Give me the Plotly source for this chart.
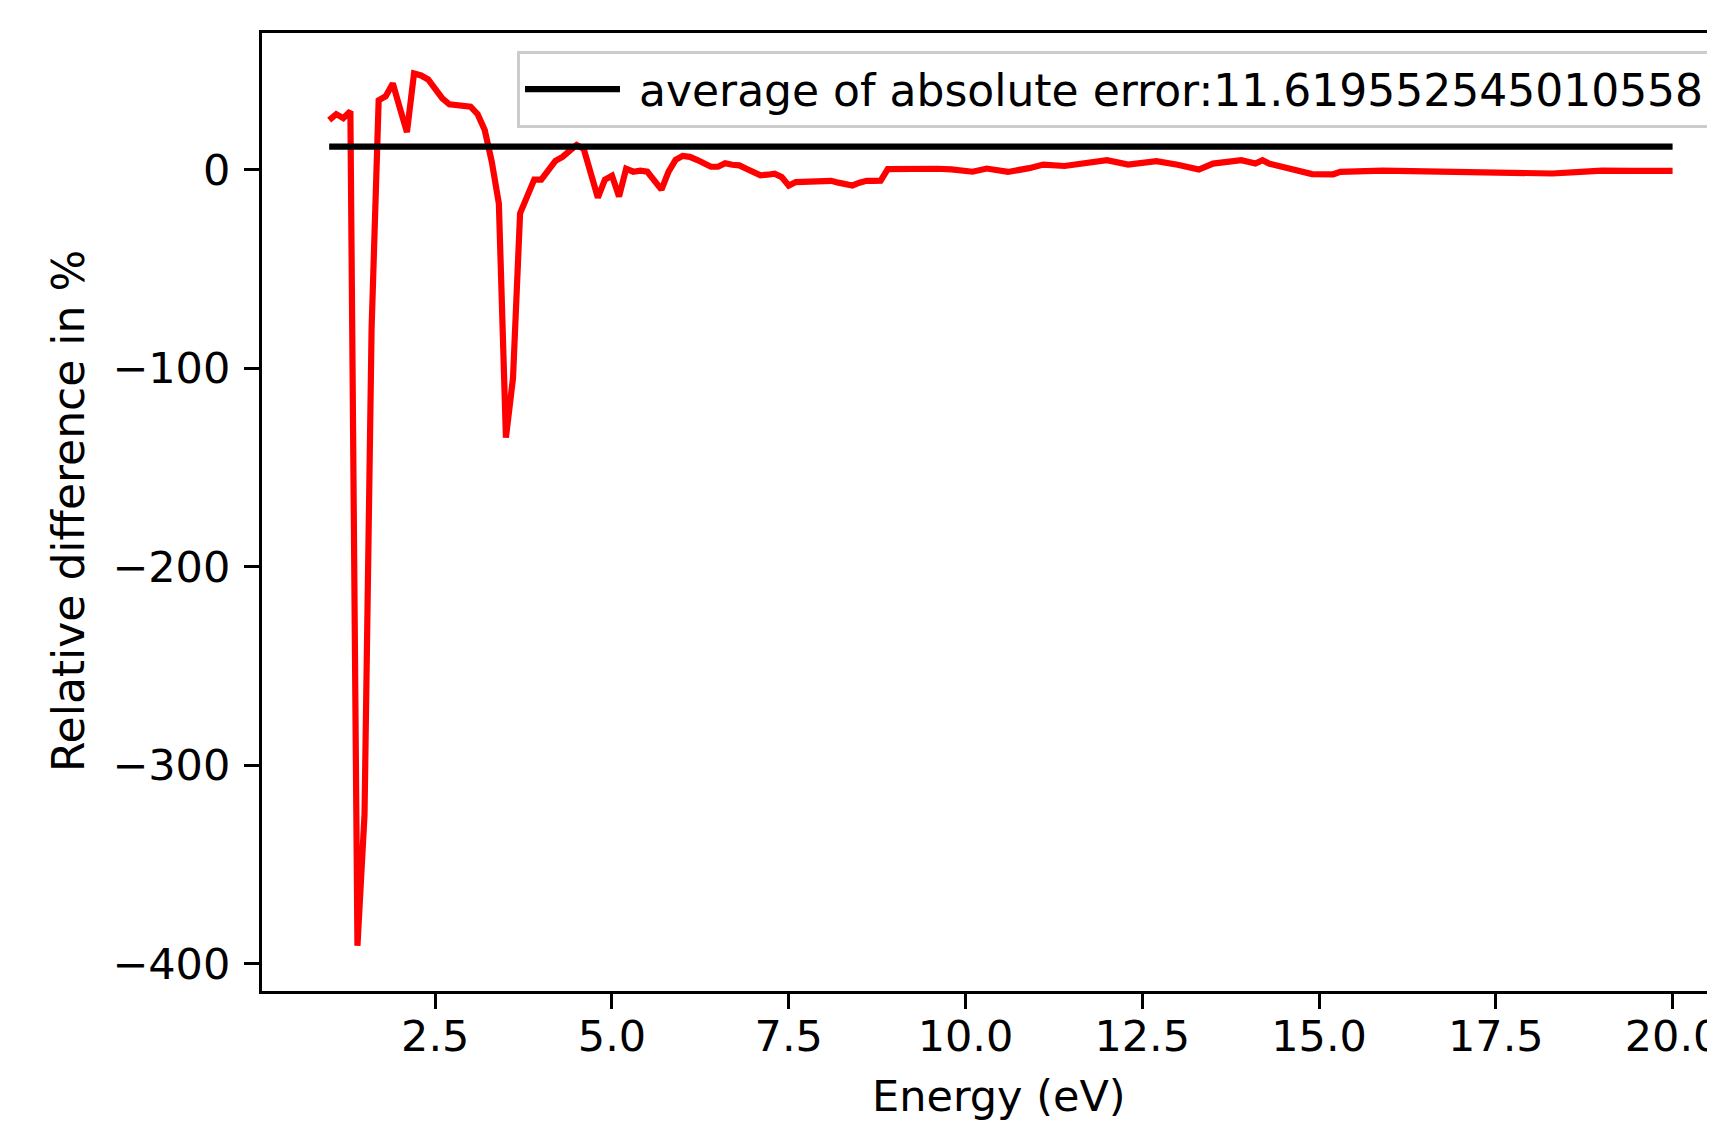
import plotly.graph_objects as go

energy = [1.0, 1.1, 1.2, 1.3, 1.4, 1.5, 1.6, 1.7, 1.8, 1.9,
          2.0, 2.1, 2.2, 2.3, 2.4, 2.5, 2.6, 2.7, 2.8, 2.9,
          3.0, 3.1, 3.2, 3.3, 3.4, 3.5, 3.6, 3.7, 3.8, 3.9,
          4.0, 4.1, 4.2, 4.3, 4.4, 4.5, 4.6, 4.7, 4.8, 4.9,
          5.0, 5.1, 5.2, 5.3, 5.4, 5.5, 5.6, 5.7, 5.8, 5.9,
          6.0, 6.1, 6.2, 6.3, 6.4, 6.5, 6.6, 6.7, 6.8, 6.9,
          7.0, 7.1, 7.2, 7.3, 7.4, 7.5, 7.6, 7.7, 7.8, 7.9,
          8.0, 8.1, 8.2, 8.3, 8.4, 8.5, 8.6, 8.7, 8.8, 8.9,
          9.0, 9.2, 9.4, 9.6, 9.8, 10.0, 10.1, 10.3, 10.6, 10.9,
          11.1, 11.4, 11.7, 12.0, 12.3, 12.7, 13.0, 13.3, 13.5, 13.9,
          14.1, 14.2, 14.3, 14.5, 14.7, 14.9, 15.2, 15.3, 15.9, 16.5,
          17.0, 17.8, 18.3, 18.7, 19.0, 19.4, 20.0]

rel_diff = [25, 28, 26, 29.5, -391, -325, -80, 35, 37, 43.5,
            31, 19, 48.5, 47.5, 45.5, 41, 36, 33, 32.5, 32.3,
            31.8, 28, 20, 4, -17, -135, -105, -22, -14, -5,
            -5, -0.5, 4.5, 6.5, 9.5, 12.5, 10.5, -2, -14, -5,
            -3, -13.5, 0.5, -1, -0.5, -1, -5, -10, -1, 5,
            7, 6.5, 5, 3, 1.5, 1.5, 3.3, 2.5, 2.2, 0.5,
            -1, -2.8, -2.5, -2, -3.7, -8, -6.2, -6, -5.8, -5.5,
            -5.5, -5.6, -6.5, -7.5, -7.9, -6.5, -5.6, -5.6, -5.5, 0.3,
            0.4, 0.6, 0.6, 0.5, 0.2, -0.5, -1, 0.6, -1.1, 0.8,
            2.6, 1.9, 3.4, 4.8, 2.6, 4.3, 2.5, 0.1, 3.1, 4.8,
            3.1, 4.8, 3.0, 1.2, -0.3, -2.2, -2.3, -1.1, -0.4, -0.6,
            -1.5, -1.1, -1.9, -1.1, -0.4, -0.6, -0.6]

avg_abs_error = 11.619552545010558
avg_x = [energy[0], energy[-1]]
avg_y = [avg_abs_error, avg_abs_error]

x_ticks = [2.5, 5.0, 7.5, 10.0, 12.5, 15.0, 17.5, 20.0]
y_ticks = [-400, -300, -200, -100, 0]
x_title = "Energy (eV)"
y_title = "Relative difference in %"

FONT = "DejaVu Sans"
FS = 43

# page body has an 8px margin; work in screen pixels and shift by it
OFF = 8
W, H = 1715 - OFF, 1125 - OFF
ML, MR, MT, MB = 262 - OFF, 0, 33 - OFF, 134
PW, PH = W - ML - MR, H - MT - MB


def px_x(sx):
    return (sx - OFF - ML) / PW


def px_y(sy):
    return 1 - (sy - OFF - MT) / PH


fig = go.Figure()
fig.add_trace(go.Scatter(x=energy, y=rel_diff, mode="lines",
                         line=dict(color="#ff0000", width=6.2),
                         showlegend=False))
fig.add_trace(go.Scatter(x=avg_x, y=avg_y, mode="lines",
                         line=dict(color="#000000", width=6.2),
                         name="\u00a0average of absolute error:" + repr(avg_abs_error)))

fig.update_layout(
    width=W, height=H,
    margin=dict(l=ML, r=MR, t=MT, b=MB, autoexpand=False),
    paper_bgcolor="white", plot_bgcolor="white",
    font=dict(family=FONT, size=FS, color="black"),
    legend=dict(x=px_x(1712), y=px_y(51), xanchor="right", yanchor="top",
                bgcolor="rgba(255,255,255,0.8)", bordercolor="#cccccc",
                borderwidth=3, font=dict(family=FONT, size=44),
                itemwidth=95),
    xaxis=dict(range=[0.05, 20.6], tickvals=x_ticks, tickformat=".1f",
               showgrid=False, zeroline=False, showline=True, linecolor="black",
               linewidth=3.3, mirror=True, ticks="outside", ticklen=15,
               tickwidth=3.3, tickcolor="black", ticklabelstandoff=-10,
               ticklabeloverflow="allow", automargin=False),
    yaxis=dict(range=[-413.8, 68.9], tickvals=y_ticks,
               showgrid=False, zeroline=False, showline=True, linecolor="black",
               linewidth=3.3, mirror=False, ticks="outside", ticklen=15,
               tickwidth=3.3, tickcolor="black", ticklabelstandoff=5,
               automargin=False),
    annotations=[
        dict(text=x_title, xref="paper", yref="paper",
             x=px_x(999), y=px_y(1096), xanchor="center", yanchor="middle",
             showarrow=False, font=dict(family=FONT, size=FS)),
        dict(text=y_title, xref="paper", yref="paper",
             x=px_x(68), y=px_y(511), textangle=-90,
             xanchor="center", yanchor="middle",
             showarrow=False, font=dict(family=FONT, size=44)),
    ],
)

fig.write_html("out.html")
